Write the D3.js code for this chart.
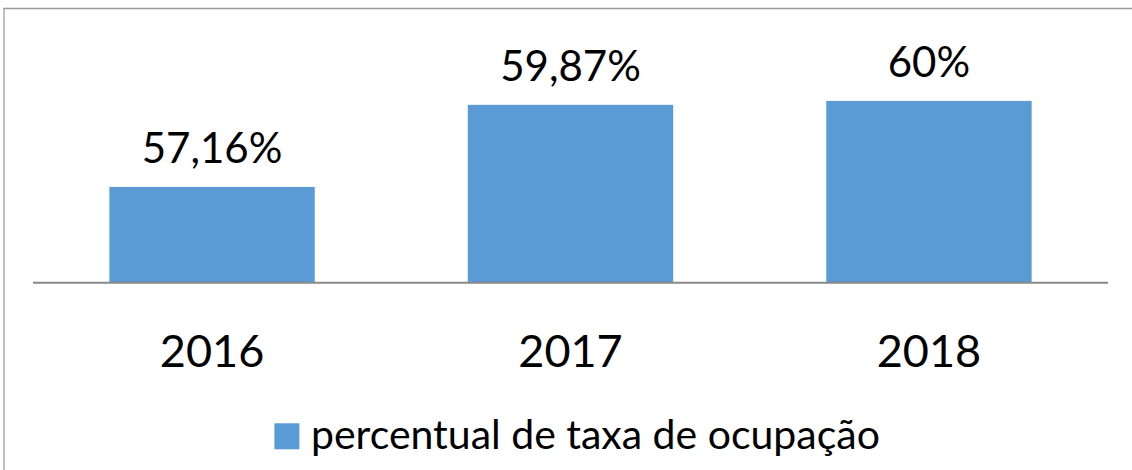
<!DOCTYPE html>
<html>
<head>
<meta charset="utf-8">
<script src="https://cdn.jsdelivr.net/npm/d3@7"></script>
<style>
  html, body { margin: 0; padding: 0; background: #fff; }
  svg { display: block; }
  text { font-family: Lato, "Open Sans", sans-serif; fill: #000; }
</style>
</head>
<body>
<svg id="chart" width="1132" height="470"></svg>
<script>
const categories = ["2016", "2017", "2018"];
const values = [57.16, 59.87, 60];
const valueLabels = ["57,16%", "59,87%", "60%"];
const seriesName = "percentual de taxa de ocupação";
const yDomain = [54, 62];

const W = 1132, H = 470;
const svg = d3.select("#chart");

// chart border (top & left visible)
svg.append("line").attr("x1", 3).attr("x2", W).attr("y1", 8.5).attr("y2", 8.5)
  .attr("stroke", "#999").attr("stroke-width", 1.5);
svg.append("line").attr("x1", 4).attr("x2", 4).attr("y1", 8).attr("y2", H)
  .attr("stroke", "#aaa").attr("stroke-width", 1.5);

const plot = { left: 33, right: 1108, top: 40.3, bottom: 282.7 };

const x = d3.scaleBand().domain(categories).range([plot.left, plot.right]).paddingInner(0.427).paddingOuter(0.213);
const y = d3.scaleLinear().domain(yDomain).range([plot.bottom, plot.top]);

const data = categories.map((c, i) => ({ c, v: values[i], label: valueLabels[i] }));

svg.append("g").selectAll("rect").data(data).join("rect")
  .attr("x", d => x(d.c))
  .attr("width", x.bandwidth())
  .attr("y", d => y(d.v))
  .attr("height", d => y(yDomain[0]) - y(d.v))
  .attr("fill", "#5B9BD5");

// baseline axis
const xAxis = d3.axisBottom(x).tickSize(0).tickPadding(0);
const gx = svg.append("g").attr("transform", `translate(0,${plot.bottom})`).call(xAxis);
gx.select(".domain").attr("stroke", "#898989").attr("stroke-width", 2).attr("d", `M${plot.left},0H${plot.right}`);
gx.selectAll("text").attr("font-family", "Lato, sans-serif").attr("font-size", 45).attr("fill", "#000")
  .attr("dy", 0).attr("y", 84.7);

// data labels
svg.append("g").selectAll("text").data(data).join("text")
  .attr("x", d => x(d.c) + x.bandwidth() / 2)
  .attr("y", d => y(d.v) - 23.5)
  .attr("text-anchor", "middle")
  .attr("font-size", 42)
  .text(d => d.label);

// legend
const lg = svg.append("g");
lg.append("rect").attr("x", 274.4).attr("y", 423.3).attr("width", 25).attr("height", 26).attr("fill", "#5B9BD5");
const lt = lg.append("text").attr("x", 311).attr("y", 449).attr("font-size", 42).text(seriesName);
const targetW = 569;
const curW = lt.node().getComputedTextLength();
lt.attr("font-size", 42 * targetW / curW);
</script>
</body>
</html>
